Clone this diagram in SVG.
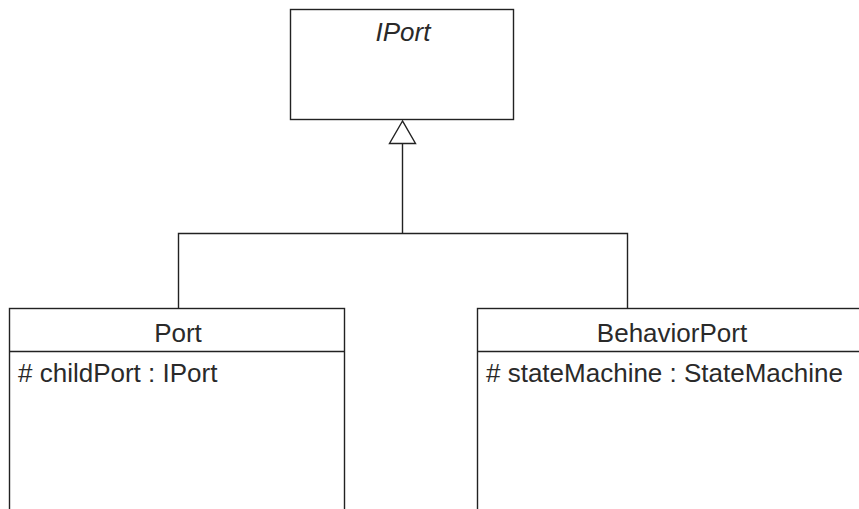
<svg xmlns="http://www.w3.org/2000/svg" width="859" height="509" viewBox="0 0 859 509">
<style>
.box{fill:#fff;stroke:#222;stroke-width:1.4}
.ln{fill:none;stroke:#222;stroke-width:1.4}
.t{font-family:"Liberation Sans",Arial,sans-serif;font-size:26px;fill:#2a2a2a}
.c{text-anchor:middle}
</style>
<rect width="859" height="509" fill="#fff"/>
<g id="connectors">
<polyline class="ln" points="178.5,308.5 178.5,233.5 627.5,233.5 627.5,308.5"/>
<line class="ln" x1="402.5" y1="233.5" x2="402.5" y2="143.5"/>
<polygon class="box" points="402.5,121 389.5,143.5 415.5,143.5"/>
</g>
<g id="IPort">
<rect class="box" x="290.5" y="9.5" width="223" height="110"/>
<text class="t c" x="403" y="41" font-style="italic">IPort</text>
</g>
<g id="Port">
<rect class="box" x="9.5" y="308.5" width="335" height="220"/>
<line class="ln" x1="9.5" y1="351.5" x2="344.5" y2="351.5"/>
<text class="t c" x="178" y="341.5">Port</text>
<text class="t" x="18" y="381.5"># childPort : IPort</text>
</g>
<g id="BehaviorPort">
<rect class="box" x="477.5" y="308.5" width="390" height="220"/>
<line class="ln" x1="477.5" y1="351.5" x2="867.5" y2="351.5"/>
<text class="t c" x="672" y="341.5">BehaviorPort</text>
<text class="t" x="486" y="381.5"># stateMachine : StateMachine</text>
</g>
</svg>
